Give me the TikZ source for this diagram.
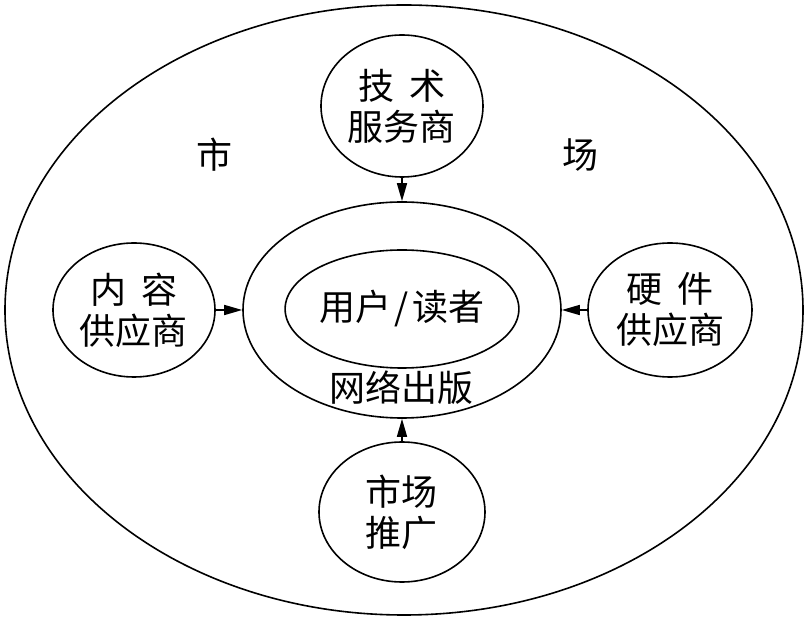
\documentclass[tikz,border=0pt]{standalone}
\usepackage{fontspec}
\usetikzlibrary{arrows.meta,shapes.geometric}
\newfontfamily\cjk{Noto Sans CJK SC}
\newcommand{\zh}{\cjk\fontsize{36pt}{41pt}\selectfont}
\tikzset{
  oval/.style={draw, ellipse, line width=1.6pt, inner sep=0pt, align=center, font=\zh},
  feed/.style={line width=1.6pt, -{Triangle[length=18pt,width=10pt]}}
}

\begin{document}
\begin{tikzpicture}[x=1pt,y=1pt]
\useasboundingbox (-404,-310) rectangle (402,310);
\node[oval, minimum width=798pt, minimum height=610pt] (market) at (0,0) {};
\node[oval, minimum width=318pt, minimum height=216pt] (pub) at (-2,0) {};
\node[oval, minimum width=188pt, minimum height=118pt] (reader) at (-2,1) {用户\hspace{0.1em}/\hspace{0.1em}读者};
\node[font=\zh] (publabel) at (-2,-78) {网络出版};
\node[oval, minimum width=162pt, minimum height=142pt] (tech) at (-2,204) {技\hspace{0.4em}术\\服务商};
\node[oval, minimum width=162pt, minimum height=134pt] (content) at (-270,0) {内\hspace{0.4em}容\\供应商};
\node[oval, minimum width=164pt, minimum height=134pt] (hard) at (266,0) {硬\hspace{0.4em}件\\供应商};
\node[oval, minimum width=166pt, minimum height=140pt] (promo) at (-2,-202) {市场\\推广};
\node[font=\zh] (shi) at (-189,155) {市};
\node[font=\zh] (chang) at (176,155) {场};
\draw[feed] (tech) -- (pub);
\draw[feed] (content) -- (pub);
\draw[feed] (hard) -- (pub);
\draw[feed] (promo) -- (pub);
\end{tikzpicture}
\end{document}
